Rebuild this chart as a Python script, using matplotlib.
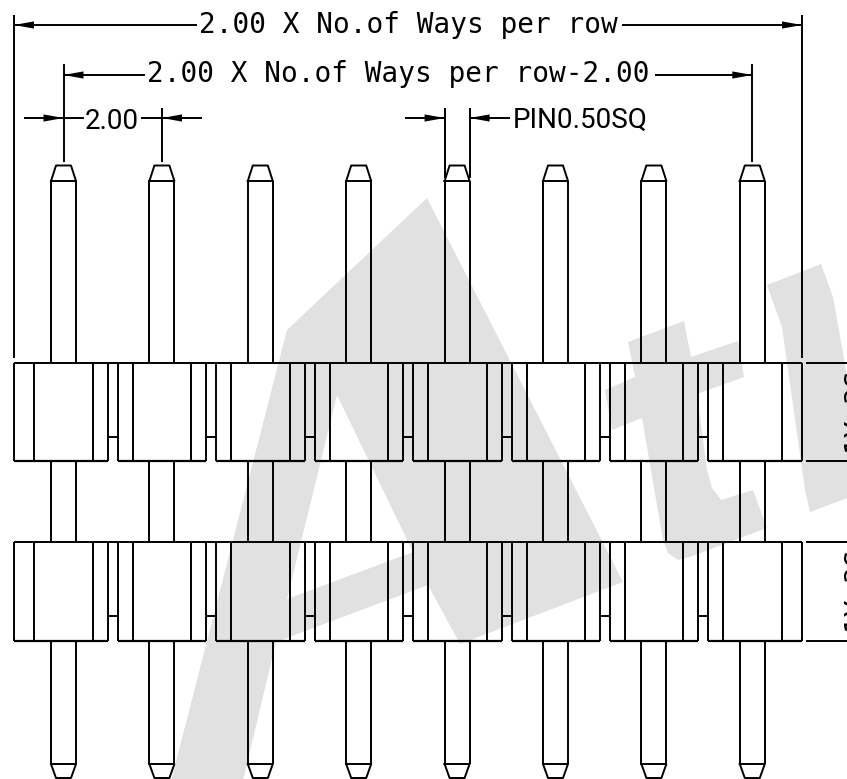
import matplotlib
matplotlib.use("Agg")
import matplotlib.pyplot as plt

# everything, in pixels (y down)
pin_lefts = [51, 149.4, 247.8, 346.2, 444.6, 543, 641.4, 739.8]
cell_lefts = [14, 118, 216.4, 314.8, 413.2, 511.6, 610, 708.4]
cell_inner_lefts = [34, 133, 231.4, 329.8, 428.2, 526.6, 625, 723.4]
cell_inner_rights = [93, 191.4, 289.8, 388.2, 486.6, 585, 683.4, 781.8]
cell_rights = [108, 206.4, 304.8, 403.2, 501.6, 600, 698.4, 802]
row_tops = [363, 542]
row_bottoms = [461, 641]
bridge_ys = [437, 616]

pin_width = 25
tip_inset = 5
pin_tip_top = [165.5, 181]
pin_tip_bottom = [764, 778]

# watermark outlines
wm_A_x = [427, 287, 170, 242, 276, 428, 460, 623]
wm_A_y = [198, 330, 785, 785, 642, 585, 644, 582]
wm_A_hole_x = [337, 287, 413]
wm_A_hole_y = [395, 599, 552]
wm_t_x = [628, 684, 691, 738, 744, 697, 707, 712, 721, 753, 767, 690, 678, 668, 663, 642, 612, 605, 635]
wm_t_y = [342, 321, 357, 341, 377, 394, 470, 488, 500, 490, 528, 557, 560, 553, 540, 418, 430, 390, 377]
wm_l_x = [767, 821, 833, 843, 850, 850, 810, 805, 782]
wm_l_y = [285, 264, 297, 353, 395, 497, 512, 490, 327]

dim_labels = ["2.00 X No.of Ways per row", "2.00 X No.of Ways per row-2.00"]
dim_label_x = [199, 147]
dim_label_y = [33, 82]
pitch_label = "2.00"
pin_label = "PIN0.50SQ"
side_label = "1Y 3S"

BLACK = "#000000"
GRAY = "#e1e1e1"
LW = 1.4

fig = plt.figure(figsize=(8.47, 7.79), dpi=100)
ax = fig.add_axes([0, 0, 1, 1])
ax.set_xlim(0, 847)
ax.set_ylim(779, 0)
ax.axis("off")


def seg(x0, y0, x1, y1, lw=LW):
    ax.plot([x0, x1], [y0, y1], color=BLACK, lw=lw, solid_capstyle="butt", zorder=3)


def arrow(tip_x, y, direction):
    # filled dimension arrow, direction is +1 when the tail is to the right
    ax.fill([tip_x, tip_x + 20 * direction, tip_x + 20 * direction], [y, y - 3.6, y + 3.6],
            color=BLACK, lw=0, zorder=4)


# watermark
ax.fill(wm_A_x, wm_A_y, color=GRAY, lw=0, zorder=1)
ax.fill(wm_A_hole_x, wm_A_hole_y, color="white", lw=0, zorder=1.5)
ax.fill(wm_t_x, wm_t_y, color=GRAY, lw=0, zorder=1)
ax.fill(wm_l_x, wm_l_y, color=GRAY, lw=0, zorder=1)

# pins
for left in pin_lefts:
    right = left + pin_width
    for x in (left, right):
        seg(x, pin_tip_top[1], x, row_tops[0])
        seg(x, row_bottoms[0], x, row_tops[1])
        seg(x, row_bottoms[1], x, pin_tip_bottom[0])
    ax.plot([left, left + tip_inset, right - tip_inset, right, left],
            [pin_tip_top[1], pin_tip_top[0], pin_tip_top[0], pin_tip_top[1], pin_tip_top[1]],
            color=BLACK, lw=LW, zorder=3)
    ax.plot([left, left + tip_inset, right - tip_inset, right, left],
            [pin_tip_bottom[0], pin_tip_bottom[1], pin_tip_bottom[1], pin_tip_bottom[0], pin_tip_bottom[0]],
            color=BLACK, lw=LW, zorder=3)

# housing rows
for top, bottom, bridge in zip(row_tops, row_bottoms, bridge_ys):
    seg(cell_lefts[0], top, cell_rights[-1], top)
    for x0, x1, x2, x3 in zip(cell_lefts, cell_inner_lefts, cell_inner_rights, cell_rights):
        for x in (x0, x1, x2, x3):
            seg(x, top, x, bottom)
        seg(x0, bottom, x3, bottom, lw=LW + 0.2)
    for x3, x0 in zip(cell_rights[:-1], cell_lefts[1:]):
        seg(x3, bridge, x0, bridge)
    seg(806, top, 847, top)
    seg(806, bottom, 847, bottom)
    ax.text(858, (top + bottom) / 2, side_label, rotation=90, ha="center", va="center",
            family="DejaVu Sans Mono", fontsize=20, color=BLACK, zorder=4, clip_on=False)

# overall dimension
seg(14, 15, 14, 358)
seg(802, 15, 802, 358)
seg(14, 25, 197, 25)
seg(622, 25, 802, 25)
arrow(14, 25, 1)
arrow(802, 25, -1)

# centre to centre dimension
seg(63.5, 64, 63.5, 162)
seg(752.3, 64, 752.3, 162)
seg(63.5, 75, 145, 75)
seg(655, 75, 752.3, 75)
arrow(63.5, 75, 1)
arrow(752.3, 75, -1)

# pitch dimension
seg(162, 108, 162, 162)
seg(24, 118, 84, 118)
seg(141, 118, 202, 118)
arrow(63.5, 118, -1)
arrow(162, 118, 1)

# pin size dimension
seg(444.6, 108, 444.6, 178)
seg(469.6, 108, 469.6, 178)
seg(405, 118, 444.6, 118)
seg(469.6, 118, 510, 118)
arrow(444.6, 118, -1)
arrow(469.6, 118, 1)

for label, x, y in zip(dim_labels, dim_label_x, dim_label_y):
    ax.text(x, y, label, family="DejaVu Sans Mono", fontsize=20, color=BLACK,
            ha="left", va="baseline", zorder=4)
ax.text(112, 129, pitch_label, family="Roboto", fontsize=20, color=BLACK, ha="center", va="baseline", zorder=4)
ax.text(513, 128, pin_label, family="Roboto", fontsize=20, color=BLACK, ha="left", va="baseline", zorder=4)

fig.savefig("out.png", dpi=100)
